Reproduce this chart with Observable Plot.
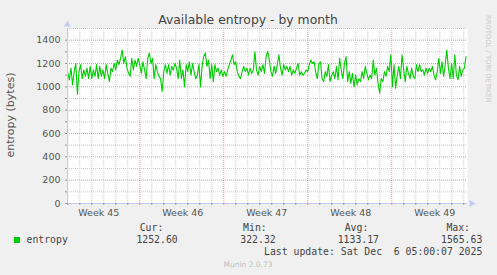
<!DOCTYPE html>
<html>
<head>
<meta charset="utf-8">
<script src="https://cdn.jsdelivr.net/npm/d3@7"></script>
<script src="https://cdn.jsdelivr.net/npm/@observablehq/plot@0.6"></script>
<style>
  html, body { margin: 0; padding: 0; background: #f0f0f0; }
  #chart { position: relative; width: 497px; height: 275px; overflow: hidden; }
</style>
</head>
<body>
<div id="chart"></div>
<script>
// ---- data (~3.2 h sampling) ----
const entropyValues = [
  1120,1060,1160,1016,1130,1200,937,1130,1190,1070,1145,1090,1160,1070,1175,1070,1145,1090,1190,1070,1175,1090,1145,1070,1190,1115,1045,1160,1130,1200,1145,1230,1190,1245,1315,
  1200,1260,1160,1115,1090,1245,1145,1230,1175,1245,1190,1115,1215,1145,1070,1245,1290,1200,1245,1070,1190,1130,1090,1070,960,1130,1190,1115,1190,1100,1175,1145,1200,1160,1070,1230,
  1070,1145,1000,1190,1130,1215,1100,1200,1130,1070,1100,1190,1000,1175,1260,1290,1175,1230,1070,1190,1045,1190,1130,1160,1100,1145,1090,1130,1090,1145,1190,1230,1275,1190,1215,1130,1090,
  1070,1130,1175,1130,1160,1100,1160,1115,1145,1300,1145,1100,1175,1130,1190,1115,1260,1305,1230,1130,1090,1175,1115,1190,1275,1160,1100,1190,1145,1175,1130,1175,1100,1145,1115,1160,1200,
  1100,1130,1100,1115,1145,1130,1190,1230,1200,1215,1130,1070,1200,1215,1070,1045,1130,1090,1190,1045,1100,1130,1070,1175,1060,1245,1145,1070,1200,1260,1045,1130,1030,1115,1000,1100,
  1016,1070,1045,1130,1070,1175,1115,1060,1100,1070,1230,1100,1160,1030,945,1070,1045,1130,1090,1175,1130,1275,1000,1190,988,1100,1175,1070,1275,1145,1045,1175,1115,1070,1160,1090,
  1070,1190,1130,1190,1130,1145,1100,1160,1115,1160,1130,1175,1100,1060,1130,1245,1115,1215,1090,1190,1315,1160,1070,1200,1070,1275,1100,1060,1175,1090,1145,1160,1260
];
const weekLabels = ["Week 45", "Week 46", "Week 47", "Week 48", "Week 49"];
const yMajorTicks = [0, 200, 400, 600, 800, 1000, 1200, 1400];
const legendHeaders = ["Cur:", "Min:", "Avg:", "Max:"];
const legendValues = ["1252.60", "322.32", "1133.17", "1565.63"];
const seriesName = "entropy";
const lastUpdate = "Last update: Sat Dec  6 05:00:07 2025";

// ---- time axis ----
const DAY = 86400000;
const xStart = Date.UTC(2025, 10, 2, 23, 24);   // left edge of the 33-day window
const xEnd = xStart + DAY * 400 / 12;
const dataStart = xStart + DAY * 0.3 / 12;
const dataEnd = xStart + DAY * 398.5 / 12;
const step = (dataEnd - dataStart) / (entropyValues.length - 1);
const series = entropyValues.map((v, i) => ({t: new Date(dataStart + i * step), v}));

const days = d3.utcDay.range(new Date(xStart), new Date(xEnd));
const weekStarts = d3.utcSunday.range(d3.utcSunday.floor(new Date(xStart)), new Date(xEnd));
const weekLines = weekStarts.filter(d => +d > xStart);
const dayLines = days.filter(d => d.getUTCDay() !== 0);
const labelTimes = weekStarts.map(d => new Date(+d + DAY * 3.58));
const labelMap = new Map(labelTimes.map((d, i) => [+d, weekLabels[i]]));

const minorY = d3.range(100, 1600, 200);
const allY = d3.range(0, 1500, 100);

const axisColor = "#c6caee";
const gridColor = "#cbcbcb";
const mgridColor = "#e49a9a";

const chart = Plot.plot({
  width: 497,
  height: 275,
  marginLeft: 67,
  marginRight: 30,
  marginTop: 28,
  marginBottom: 72,
  style: {background: "transparent", fontFamily: "DejaVu Sans", fontSize: "9.5px", color: "#555"},
  x: {type: "utc", domain: [new Date(xStart), new Date(xEnd)], label: null},
  y: {domain: [0, 1500], label: null},
  marks: [
    Plot.frame({fill: "white", stroke: null}),
    Plot.ruleY(minorY, {stroke: gridColor, strokeDasharray: "1,1"}),
    Plot.ruleX(dayLines, {stroke: gridColor, strokeDasharray: "1,1"}),
    Plot.ruleY(yMajorTicks.filter(d => d > 0), {stroke: mgridColor, strokeDasharray: "1,1"}),
    Plot.ruleX(weekLines, {stroke: mgridColor, strokeDasharray: "1,1"}),
    Plot.line(series, {x: "t", y: "v", stroke: "#00cc00", strokeWidth: 1.1}),
    Plot.ruleY([0], {stroke: axisColor}),
    Plot.ruleX([new Date(xStart)], {stroke: axisColor}),
    Plot.dot([0], {frameAnchor: "top-left", dy: -4, symbol: "triangle", r: 2.6, fill: axisColor, stroke: null}),
    Plot.dot([0], {frameAnchor: "bottom-right", dx: 4, symbol: "triangle", rotate: 90, r: 2.6, fill: axisColor, stroke: null}),
    Plot.axisY({ticks: allY, tickSize: 2, tickFormat: () => "", stroke: "#999", label: null}),
    Plot.axisY({ticks: yMajorTicks, tickSize: 0, tickPadding: 7, tickFormat: d => String(d), fill: "#555", fontSize: 9.5, label: null}),
    Plot.axisX({ticks: dayLines, tickSize: 2, tickFormat: () => "", stroke: "#999", label: null}),
    Plot.axisX({ticks: weekLines, tickSize: 2, tickFormat: () => "", stroke: mgridColor, label: null}),
    Plot.axisX({ticks: labelTimes, tickSize: 0, tickPadding: 6, tickFormat: d => labelMap.get(+d), fill: "#555", fontSize: 9.5, label: null})
  ]
});

document.getElementById("chart").appendChild(chart);

// ---- title, axis label, legend and credits ----
const svg = d3.select(chart);
const sans = "DejaVu Sans";
const mono = "DejaVu Sans Mono";

svg.append("text").attr("x", 248).attr("y", 24).attr("text-anchor", "middle")
  .attr("font-family", sans).attr("font-size", 12.4).attr("fill", "#444")
  .text("Available entropy - by month");

svg.append("text").attr("transform", "translate(14,115) rotate(-90)").attr("text-anchor", "middle")
  .attr("font-family", sans).attr("font-size", 11).attr("fill", "#555")
  .text("entropy (bytes)");

svg.append("text").attr("transform", "translate(486,15) rotate(90)").attr("text-anchor", "start")
  .attr("font-family", sans).attr("font-size", 6.8).attr("fill", "#c8c8c8")
  .text("RRDTOOL / TOBI OETIKER");

const headerX = [163.3, 266.7, 368.3, 470];
const valueX = [177.7, 275.7, 379, 482.3];
legendHeaders.forEach((h, i) => {
  svg.append("text").attr("x", headerX[i]).attr("y", 230.7).attr("text-anchor", "end")
    .attr("font-family", mono).attr("font-size", 9.8).attr("fill", "#444").text(h);
});
legendValues.forEach((v, i) => {
  svg.append("text").attr("x", valueX[i]).attr("y", 243.3).attr("text-anchor", "end")
    .attr("font-family", mono).attr("font-size", 9.8).attr("fill", "#444").text(v);
});
svg.append("rect").attr("x", 14).attr("y", 237).attr("width", 6).attr("height", 6).attr("fill", "#00cc00");
svg.append("text").attr("x", 26.5).attr("y", 243.3).attr("text-anchor", "start")
  .attr("font-family", mono).attr("font-size", 9.8).attr("fill", "#444").text(seriesName);
svg.append("text").attr("x", 482.3).attr("y", 255.3).attr("text-anchor", "end")
  .attr("font-family", mono).attr("font-size", 9.8).attr("fill", "#444")
  .style("white-space", "pre").text(lastUpdate);
svg.append("text").attr("x", 248).attr("y", 266.7).attr("text-anchor", "middle")
  .attr("font-family", sans).attr("font-size", 7.5).attr("fill", "#bdbdbd")
  .text("Munin 2.0.73");
</script>
</body>
</html>
